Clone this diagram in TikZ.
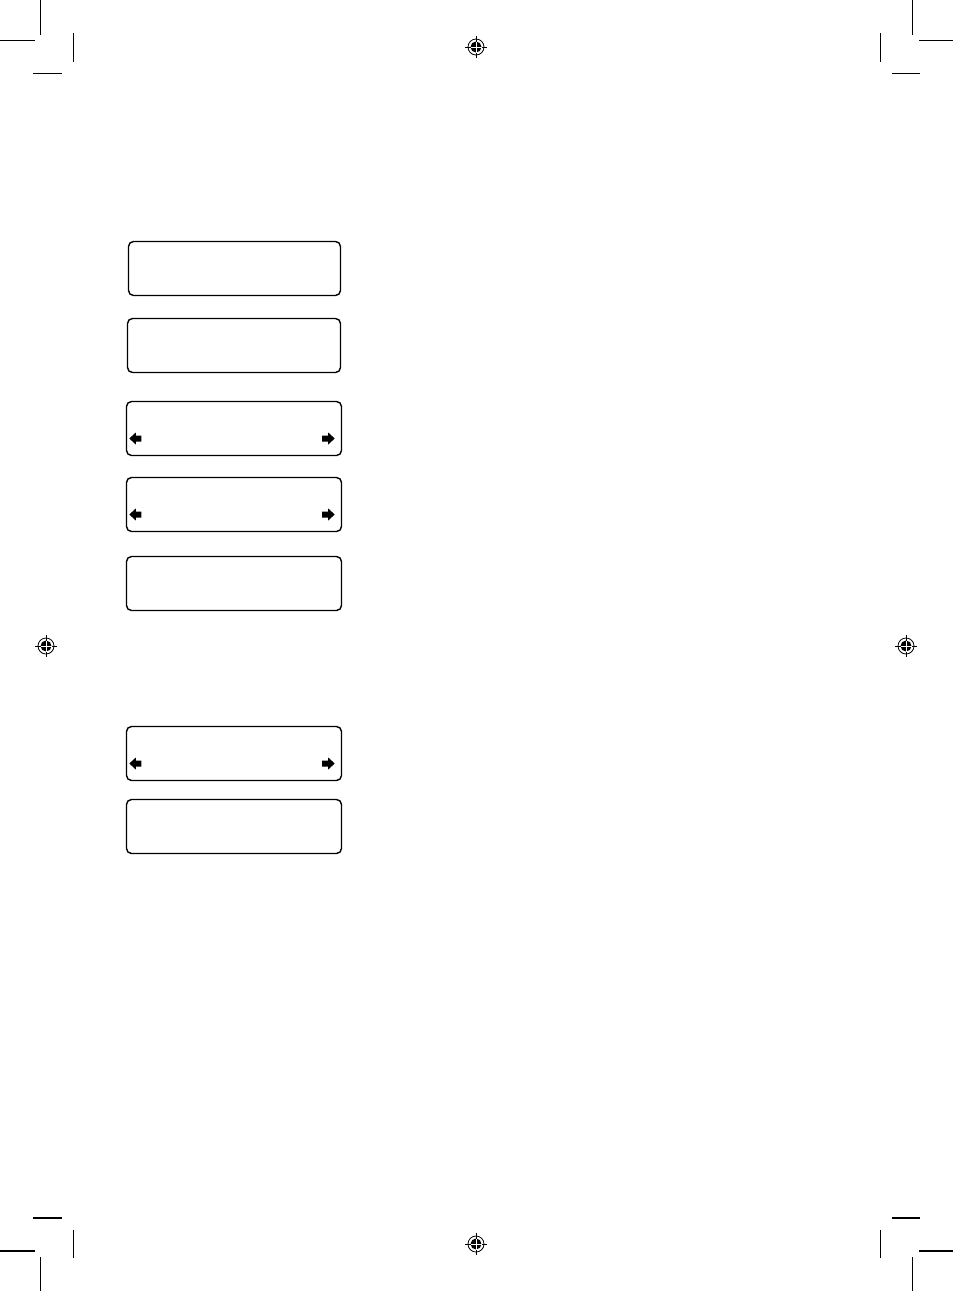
\documentclass[tikz,border=0pt]{standalone}
\usepackage{tikz}
\usetikzlibrary{positioning}

\begin{document}
\begin{tikzpicture}[x=1pt,y=-1pt,
    screen/.style={rectangle,draw,rounded corners=5pt,line width=1.4pt,minimum width=215pt,minimum height=54pt,inner sep=0pt},
    cropline/.style={line width=1.2pt},
    regline/.style={line width=0.8pt}]
    \useasboundingbox (0,0) rectangle (953,1291);

    % Display screens
    \node[screen,minimum width=212pt] at (234.5,268.5) (s1) {};
    \node[screen,minimum width=213pt] at (234,345.5) (s2) {};
    \node[screen] at (234,428.5) (s3) {};
    \node[screen] at (234,504.5) (s4) {};
    \node[screen] at (234,583.5) (s5) {};
    \node[screen] at (234,753.5) (s6) {};
    \node[screen] at (234,826.5) (s7) {};

    % Scroll arrows
    \foreach \s in {s3,s4,s6} {
        \fill ([xshift=3.5pt,yshift=-10pt]\s.west) -- ++(6.5,-6) -- ++(0,3) -- ++(5.5,0) -- ++(0,6) -- ++(-5.5,0) -- ++(0,3) -- cycle;
        \fill ([xshift=-7.5pt,yshift=-10pt]\s.east) -- ++(-6.5,-6) -- ++(0,3) -- ++(-6,0) -- ++(0,6) -- ++(6,0) -- ++(0,3) -- cycle;
    }

    % Registration marks
    \foreach \mx/\my in {476/47,476/1244,46/646,906/646} {
        \begin{scope}[shift={(\mx,\my)}]
            \draw[regline] (-11,0) -- (11,0) (0,-11) -- (0,11);
            \draw[regline] (0,0) circle (8);
            \fill (0,0) circle (5.5);
            \draw[regline,white] (-5.5,0) -- (5.5,0) (0,-5.5) -- (0,5.5);
        \end{scope}
    }

    % Crop marks
    \draw[cropline] (40.5,0) -- (40.5,35) (0,40.5) -- (35,40.5);
    \draw[cropline] (73.5,33) -- (73.5,62) (33,73.5) -- (62,73.5);
    \draw[cropline] (912.5,0) -- (912.5,35) (919,40.5) -- (953,40.5);
    \draw[cropline] (880.5,33) -- (880.5,62) (892,73.5) -- (920,73.5);
    \draw[cropline] (40.5,1291) -- (40.5,1257) (0,1251) -- (35,1251);
    \draw[cropline] (73.5,1230) -- (73.5,1258) (33,1218) -- (62,1218);
    \draw[cropline] (912.5,1291) -- (912.5,1257) (919,1251) -- (953,1251);
    \draw[cropline] (880.5,1230) -- (880.5,1258) (892,1218) -- (920,1218);
\end{tikzpicture}
\end{document}
